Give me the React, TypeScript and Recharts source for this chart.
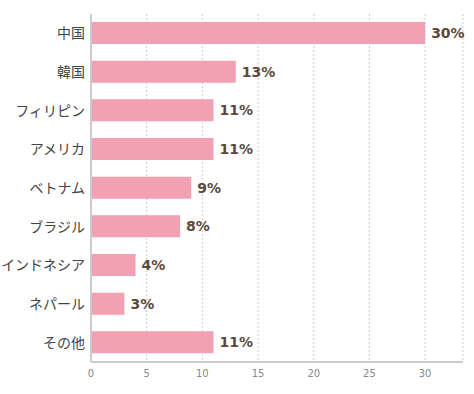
import React from 'react';
import { BarChart, Bar, XAxis, YAxis, CartesianGrid, LabelList } from 'recharts';

const countries = ['中国', '韓国', 'フィリピン', 'アメリカ', 'ベトナム', 'ブラジル', 'インドネシア', 'ネパール', 'その他'];
const shares = [30, 13, 11, 11, 9, 8, 4, 3, 11];
const xTicks = [0, 5, 10, 15, 20, 25, 30];

const data = countries.map((name, i) => ({ name, value: shares[i] }));

const font = 'Verdana, "DejaVu Sans", "Noto Sans CJK JP", sans-serif';

export default function App() {
  return (
    <div style={{ width: 474, height: 394 }}>
      <style>{'body{margin:0}'}</style>
      <BarChart
        width={474}
        height={394}
        data={data}
        layout="vertical"
        margin={{ top: 14, right: 11, bottom: 0, left: 0 }}
      >
        <CartesianGrid horizontal={false} stroke="#cccccc" strokeDasharray="2 2" />
        <XAxis
          type="number"
          domain={[0, 33.4]}
          ticks={xTicks}
          height={32}
          tickLine={false}
          axisLine={{ stroke: '#cccccc', strokeWidth: 2 }}
          tick={{ fontSize: 10, fill: '#888888', fontFamily: font }}
        />
        <YAxis
          type="category"
          dataKey="name"
          width={91}
          tickLine={false}
          tickSize={4}
          axisLine={{ stroke: '#cccccc', strokeWidth: 2 }}
          tick={{ fontSize: 14, fill: '#444444', fontFamily: '"Noto Sans CJK JP", sans-serif' }}
        />
        <Bar dataKey="value" fill="#f1a1b2" barSize={22} isAnimationActive={false}>
          <LabelList
            dataKey="value"
            position="right"
            offset={6}
            formatter={(v: number) => `${v}%`}
            style={{ fontSize: 14, fontWeight: 'bold', fill: '#5b4a3c', fontFamily: font }}
          />
        </Bar>
      </BarChart>
    </div>
  );
}
